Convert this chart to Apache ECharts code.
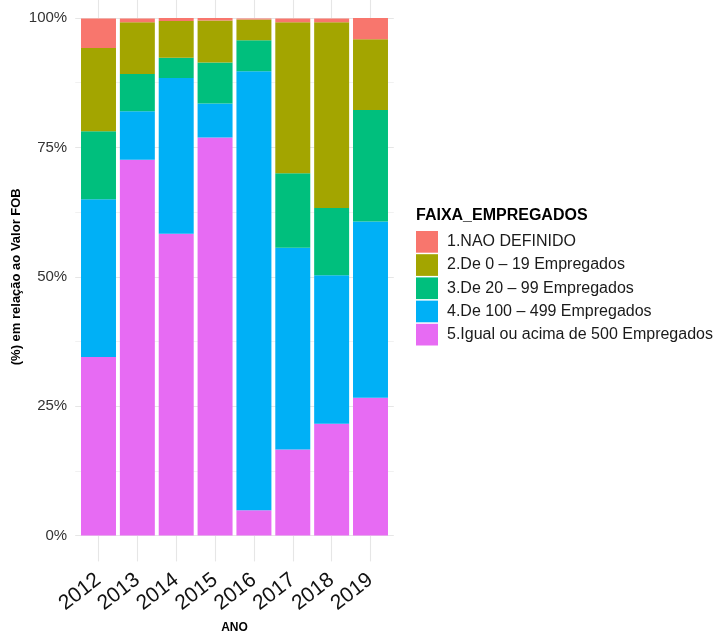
<!DOCTYPE html>
<html>
<head>
<meta charset="utf-8">
<script src="https://cdn.jsdelivr.net/npm/echarts@6/dist/echarts.min.js"></script>
<style>html,body{margin:0;padding:0;background:#fff}#c{width:716px;height:633px}</style>
</head>
<body>
<div id="c"></div>
<script>
const anos = ['2012','2013','2014','2015','2016','2017','2018','2019'];
const faixas = ['1.NAO DEFINIDO','2.De 0 – 19 Empregados','3.De 20 – 99 Empregados','4.De 100 – 499 Empregados','5.Igual ou acima de 500 Empregados'];
const cores = ['#F8766D','#A3A500','#00BF7D','#00B0F6','#E76BF3'];
const naoDefinido = [5.7, 0.7, 0.6, 0.6, 0.2, 0.7, 0.7, 4.1];
const de0a19     = [16.1, 10.0, 7.1, 8.1, 4.0, 29.2, 35.9, 13.7];
const de20a99    = [13.1, 7.2, 3.9, 7.9, 6.0, 14.4, 13.0, 21.5];
const de100a499  = [30.5, 9.4, 30.1, 6.6, 84.8, 39.0, 28.7, 34.1];
const acima500   = [34.5, 72.6, 58.3, 76.9, 4.9, 16.6, 21.6, 26.6];
const yTicks = ['0%','25%','50%','75%','100%'];

const valores = [naoDefinido, de0a19, de20a99, de100a499, acima500];
const gridColor = '#e6e6e6';

const series = [];
for (let i = valores.length - 1; i >= 0; i--) {
  series.push({
    name: faixas[i], type: 'bar', stack: 'total',
    xAxisIndex: 0, yAxisIndex: 0,
    barWidth: '90%',
    itemStyle: { color: cores[i] },
    data: valores[i]
  });
}

const chart = echarts.init(document.getElementById('c'), null, { renderer: 'canvas' });
chart.setOption({
  animation: false,
  backgroundColor: '#ffffff',
  title: {
    text: 'FAIXA_EMPREGADOS', left: 416, top: 208, padding: 0,
    textStyle: { fontFamily: 'Liberation Sans', fontSize: 16, fontWeight: 'bold', color: '#000' }
  },
  legend: {
    data: faixas, orient: 'vertical', left: 416, top: 231, padding: 0,
    itemWidth: 22, itemHeight: 21.7, itemGap: 1.5, icon: 'rect',
    textStyle: { fontFamily: 'Liberation Sans', fontSize: 16, color: '#1a1a1a', padding: [0,0,0,4] }
  },
  grid: [
    { left: 79.07, top: 18, width: 310.86, height: 517.5, outerBoundsMode: 'none', containLabel: false },
    { left: 75.2, top: 18, width: 318.6, height: 517.5, outerBoundsMode: 'none', containLabel: false }
  ],
  xAxis: [
    {
      type: 'category', gridIndex: 0, data: anos, boundaryGap: true,
      axisLine: { show: false },
      axisTick: { show: true, alignWithLabel: true, length: 25.9, lineStyle: { color: gridColor, width: 1.1 } },
      axisLabel: { interval: 0, rotate: 38, fontSize: 21, fontFamily: 'Liberation Sans', color: '#111', margin: 42 },
      name: 'ANO', nameLocation: 'middle', nameGap: 86.5,
      nameTextStyle: { fontFamily: 'Liberation Sans', fontSize: 12, fontWeight: 'bold', color: '#000' }
    },
    {
      type: 'category', gridIndex: 0, data: anos, position: 'top', boundaryGap: true,
      axisLine: { show: false },
      axisTick: { show: true, interval: 0, alignWithLabel: true, length: 18, lineStyle: { color: gridColor, width: 1.1 } },
      axisLabel: { show: false }
    },
    { type: 'value', gridIndex: 1, min: 0, max: 1, show: false }
  ],
  yAxis: [
    { type: 'value', gridIndex: 0, min: 0, max: 100, show: false },
    {
      type: 'value', gridIndex: 1, min: 0, max: 100, interval: 25,
      axisLine: { show: false }, axisTick: { show: false },
      axisLabel: {
        fontSize: 15, fontFamily: 'Liberation Sans', color: '#333', margin: 8,
        formatter: function (v) { return yTicks[Math.round(v / 25)]; }
      },
      splitLine: { show: true, lineStyle: { color: gridColor, width: 1.1 } },
      minorTick: { show: false, splitNumber: 2 },
      minorSplitLine: { show: true, lineStyle: { color: '#eeeeee', width: 0.8 } },
      name: '(%) em relação ao Valor FOB', nameLocation: 'middle', nameGap: 52,
      nameTextStyle: { fontFamily: 'Liberation Sans', fontSize: 13, fontWeight: 'bold', color: '#000' }
    }
  ],
  series: series
});
</script>
</body>
</html>
